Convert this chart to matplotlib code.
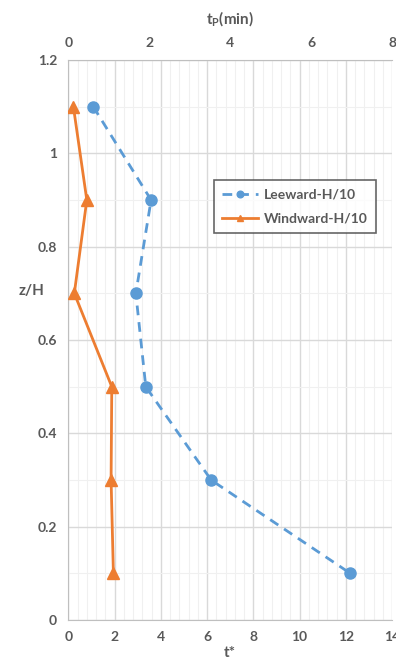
import matplotlib.pyplot as plt
from matplotlib.ticker import MultipleLocator

plt.rcParams["font.family"] = ["Lato", "DejaVu Sans"]

BLUE = "#5B9BD5"
ORANGE = "#ED7D31"
TEXT = "#595959"

z_levels = [1.1, 0.9, 0.7, 0.5, 0.3, 0.1]
leeward_t = [1.08, 3.58, 2.92, 3.35, 6.18, 12.2]
windward_t = [0.22, 0.80, 0.26, 1.88, 1.85, 1.95]

t_ticks = [0, 2, 4, 6, 8, 10, 12, 14]
tp_ticks = [0, 2, 4, 6, 8]
z_ticks = [0, 0.2, 0.4, 0.6, 0.8, 1, 1.2]


def main():
    fig = plt.figure(figsize=(3.96, 6.59), dpi=100)
    ax = fig.add_axes([0.1725, 0.059, 0.8175, 0.85])

    ax.plot(leeward_t, z_levels, color=BLUE, linestyle=(0, (3.5, 2.5)),
            linewidth=2, marker="o", markersize=8, label="Leeward-H/10", zorder=3)
    ax.plot(windward_t, z_levels, color=ORANGE, linestyle="-",
            linewidth=2, marker="^", markersize=8, label="Windward-H/10", zorder=3)

    ax.set_xlim(0, 14)
    ax.set_ylim(0, 1.2)
    ax.set_xticks(t_ticks)
    ax.set_yticks(z_ticks)
    ax.set_yticklabels(["0", "0.2", "0.4", "0.6", "0.8", "1", "1.2"])
    ax.xaxis.set_minor_locator(MultipleLocator(0.4))
    ax.yaxis.set_minor_locator(MultipleLocator(0.1))
    ax.grid(True, which="major", color="#D9D9D9", linewidth=1)
    ax.grid(True, which="minor", color="#F0F0F0", linewidth=0.8)
    ax.set_axisbelow(True)
    ax.tick_params(which="both", length=0, labelsize=10, labelcolor=TEXT, pad=8)
    for lab in ax.get_xticklabels() + ax.get_yticklabels():
        lab.set_fontweight("bold")
    ax.spines["right"].set_visible(False)
    for side in ["left", "bottom", "top"]:
        ax.spines[side].set_color("#BFBFBF")

    ax.set_xlabel("t*", fontsize=11, fontweight="bold", color=TEXT, labelpad=2)
    ax.set_ylabel("z/H", fontsize=11, fontweight="bold", color=TEXT, rotation=0)
    ax.yaxis.set_label_coords(-0.115, 0.575)

    top = ax.twiny()
    top.set_xlim(0, 8)
    top.set_xticks(tp_ticks)
    top.tick_params(length=0, labelsize=10, labelcolor=TEXT, pad=8)
    for lab in top.get_xticklabels():
        lab.set_fontweight("bold")
    for spine in top.spines.values():
        spine.set_visible(False)
    top.set_xlabel("t$_\\mathregular{P}$(min)", fontsize=11, fontweight="bold",
                   color=TEXT, labelpad=9)

    leg = ax.legend(loc="upper left", bbox_to_anchor=(0.428, 0.798),
                    frameon=True, fancybox=False, markerscale=0.6,
                    edgecolor="#404040", handlelength=2.6, handletextpad=0.4,
                    borderpad=0.6, labelspacing=0.9,
                    prop={"weight": "bold", "size": 10})
    leg.get_frame().set_linewidth(1.2)
    for t in leg.get_texts():
        t.set_color(TEXT)

    fig.savefig("out.png", dpi=100)
    plt.close(fig)


if __name__ == "__main__":
    main()
